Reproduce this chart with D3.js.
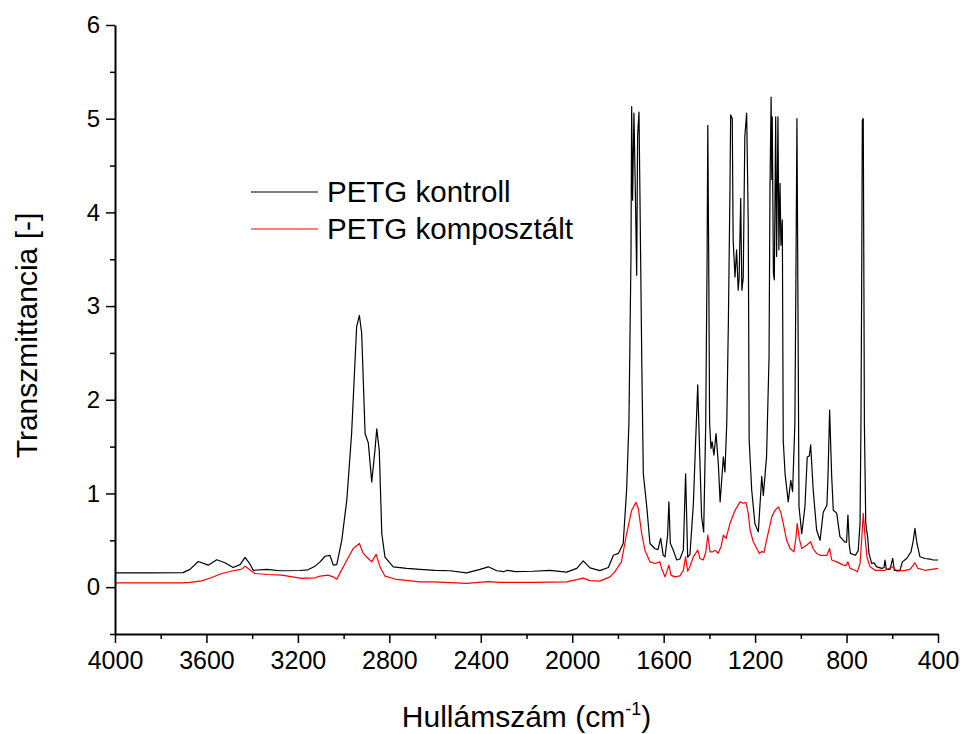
<!DOCTYPE html>
<html><head><meta charset="utf-8">
<script src="https://cdn.jsdelivr.net/npm/d3@7"></script>
<style>body{margin:0;background:#fff}svg{display:block}text{font-family:Arial,"Liberation Sans",sans-serif}</style>
</head><body><svg id="c" width="960" height="734"></svg>
<script>
// Series: [wavenumber (cm^-1), transmittance]
const kontroll = [[4000,0.153],[3847,0.152],[3703,0.155],[3672,0.19],[3636,0.274],[3592,0.235],[3555,0.292],[3519,0.26],[3483,0.21],[3453,0.24],[3431,0.317],[3413,0.26],[3395,0.18],[3336,0.19],[3278,0.175],[3191,0.178],[3156,0.185],[3125,0.224],[3103,0.27],[3081,0.33],[3060,0.34],[3045,0.235],[3030,0.24],[3008,0.5],[2986,0.93],[2965,1.64],[2943,2.78],[2931,2.9],[2921,2.71],[2906,1.64],[2892,1.54],[2877,1.124],[2863,1.46],[2855,1.69],[2844,1.46],[2833,0.57],[2819,0.32],[2783,0.217],[2724,0.2],[2666,0.19],[2600,0.18],[2535,0.175],[2462,0.153],[2403,0.19],[2367,0.217],[2330,0.175],[2300,0.165],[2285,0.18],[2250,0.165],[2172,0.17],[2097,0.18],[2024,0.16],[1980,0.2],[1952,0.28],[1922,0.206],[1879,0.176],[1842,0.21],[1820,0.34],[1798,0.36],[1777,0.466],[1762,1.04],[1752,1.75],[1743,3.53],[1740,5.13],[1736,4.13],[1730,5.06],[1724,4.24],[1718,3.33],[1714,4.81],[1708,5.07],[1704,4.24],[1696,2.46],[1689,1.21],[1674,0.86],[1660,0.466],[1638,0.41],[1625,0.4],[1613,0.52],[1602,0.34],[1594,0.324],[1583,0.55],[1577,0.91],[1571,0.47],[1558,0.395],[1543,0.29],[1529,0.3],[1514,0.395],[1504,1.21],[1495,0.32],[1485,0.35],[1470,0.89],[1460,1.57],[1451,2.16],[1442,1.39],[1434,0.75],[1425,0.59],[1416,1.75],[1410,3.53],[1407,4.93],[1403,3.5],[1399,1.75],[1393,1.48],[1388,1.55],[1380,1.41],[1371,1.64],[1361,1.32],[1353,0.91],[1339,1.39],[1332,1.23],[1324,1.75],[1317,2.82],[1310,4.24],[1307,5.04],[1300,5.0],[1296,3.7],[1288,3.31],[1281,3.6],[1274,3.17],[1270,3.3],[1263,4.15],[1258,3.17],[1252,3.3],[1245,4.81],[1237,5.06],[1230,3.88],[1226,1.57],[1215,1.04],[1201,0.68],[1186,0.59],[1171,1.18],[1164,0.98],[1150,1.39],[1139,2.46],[1135,4.24],[1130,5.23],[1127,4.35],[1125,5.02],[1120,3.35],[1116,3.28],[1110,5.02],[1106,3.53],[1100,5.02],[1096,3.6],[1091,4.31],[1087,3.65],[1081,3.92],[1077,1.57],[1069,1.21],[1055,0.91],[1044,1.14],[1036,1.02],[1026,1.75],[1021,3.5],[1017,5.0],[1013,3.2],[1008,0.86],[996,0.57],[982,0.86],[972,1.39],[963,1.4],[957,1.52],[946,1.04],[931,0.61],[916,0.5],[902,0.8],[886,0.875],[881,1.2],[874,1.89],[865,1.18],[858,0.82],[843,0.79],[829,0.54],[807,0.48],[800,0.48],[794,0.77],[788,0.45],[783,0.36],[761,0.34],[749,0.39],[741,0.68],[737,1.75],[734,3.17],[731,4.985],[727,5.0],[724,3.17],[722,1.75],[716,0.68],[707,0.52],[702,0.36],[690,0.253],[680,0.26],[668,0.217],[646,0.2],[636,0.21],[632,0.29],[626,0.19],[610,0.19],[598,0.306],[591,0.18],[566,0.18],[556,0.27],[537,0.306],[518,0.377],[508,0.5],[501,0.627],[492,0.466],[479,0.324],[457,0.306],[435,0.3],[422,0.29],[399,0.29]];
const komposztalt = [[4000,0.046],[3708,0.046],[3672,0.05],[3621,0.067],[3580,0.1],[3533,0.146],[3493,0.17],[3446,0.192],[3431,0.224],[3418,0.2],[3388,0.146],[3331,0.135],[3271,0.128],[3183,0.093],[3125,0.1],[3103,0.117],[3068,0.128],[3046,0.11],[3030,0.085],[3016,0.15],[2986,0.288],[2958,0.413],[2931,0.466],[2914,0.36],[2892,0.306],[2877,0.27],[2858,0.352],[2841,0.217],[2819,0.117],[2768,0.082],[2666,0.057],[2609,0.057],[2462,0.04],[2369,0.06],[2316,0.05],[2172,0.052],[2024,0.057],[1952,0.096],[1922,0.07],[1879,0.064],[1835,0.11],[1814,0.163],[1785,0.27],[1762,0.57],[1740,0.82],[1721,0.905],[1711,0.84],[1696,0.57],[1682,0.395],[1660,0.27],[1638,0.253],[1616,0.27],[1609,0.2],[1594,0.11],[1577,0.235],[1568,0.128],[1551,0.11],[1529,0.12],[1514,0.18],[1504,0.324],[1495,0.17],[1485,0.22],[1470,0.324],[1451,0.395],[1441,0.306],[1427,0.29],[1416,0.37],[1407,0.555],[1397,0.377],[1383,0.38],[1375,0.395],[1362,0.36],[1349,0.43],[1339,0.555],[1327,0.52],[1310,0.68],[1288,0.82],[1266,0.91],[1252,0.895],[1240,0.905],[1230,0.787],[1222,0.61],[1208,0.484],[1193,0.413],[1181,0.36],[1171,0.38],[1161,0.37],[1150,0.5],[1127,0.75],[1113,0.82],[1099,0.857],[1088,0.8],[1077,0.68],[1062,0.5],[1047,0.413],[1030,0.377],[1021,0.537],[1016,0.68],[1007,0.52],[996,0.413],[974,0.45],[957,0.484],[946,0.41],[931,0.36],[916,0.34],[886,0.34],[874,0.413],[865,0.29],[843,0.27],[814,0.235],[802,0.23],[794,0.27],[785,0.2],[763,0.18],[753,0.163],[741,0.253],[734,0.5],[727,0.787],[719,0.537],[711,0.324],[697,0.217],[676,0.18],[632,0.18],[598,0.217],[581,0.17],[544,0.18],[522,0.19],[501,0.26],[488,0.2],[457,0.18],[399,0.2]];
const seriesNames = ["PETG kontroll","PETG komposztált"];
const seriesColors = ["#000000","#ff0000"];
const xTicks = [4000,3600,3200,2800,2400,2000,1600,1200,800,400];
const xMinor = [3800,3400,3000,2600,2200,1800,1400,1000,600];
const yTicks = [0,1,2,3,4,5,6];
const yMinor = [-0.5,0.5,1.5,2.5,3.5,4.5,5.5];

const svg = d3.select("#c");
const L=115,R=938,T=25,B=634;
const x = d3.scaleLinear().domain([4000,400]).range([L,R]);
const y = d3.scaleLinear().domain([-0.5,6]).range([B,T]);

const line = d3.line().x(d=>x(d[0])).y(d=>y(d[1]));
[kontroll,komposztalt].forEach((s,i)=>{
  svg.append("path").datum(s).attr("d",line).attr("fill","none")
    .attr("stroke",seriesColors[i]).attr("stroke-width",1.2).attr("stroke-linejoin","round");
});

// X axis
const gx = svg.append("g").attr("transform",`translate(0,${B})`)
  .call(d3.axisBottom(x).tickValues(xTicks).tickFormat(d3.format("d")).tickSize(9).tickSizeOuter(0).tickPadding(8));
gx.selectAll(".tick line").attr("stroke-width",1.5);
gx.select(".domain").attr("stroke-width",2);
gx.selectAll("text").attr("font-size",25).attr("font-family","Arial, 'Liberation Sans', sans-serif");
svg.append("g").attr("transform",`translate(0,${B})`)
  .call(d3.axisBottom(x).tickValues(xMinor).tickFormat("").tickSize(5).tickSizeOuter(0))
  .call(g=>g.select(".domain").remove()).selectAll("line").attr("stroke-width",1.5);

// Y axis
const gy = svg.append("g").attr("transform",`translate(${L},0)`)
  .call(d3.axisLeft(y).tickValues(yTicks).tickFormat(d3.format("d")).tickSize(9).tickSizeOuter(0).tickPadding(6));
gy.selectAll(".tick line").attr("stroke-width",1.5);
gy.select(".domain").attr("stroke-width",2);
gy.selectAll("text").attr("font-size",24).attr("font-family","Arial, 'Liberation Sans', sans-serif");
svg.append("g").attr("transform",`translate(${L},0)`)
  .call(d3.axisLeft(y).tickValues(yMinor).tickFormat("").tickSize(5).tickSizeOuter(0))
  .call(g=>g.select(".domain").remove()).selectAll("line").attr("stroke-width",1.5);

// Axis titles
const xt = svg.append("text").attr("x",(L+R)/2).attr("y",727).attr("text-anchor","middle").attr("font-size",30);
xt.append("tspan").text("Hullámszám (cm");
xt.append("tspan").attr("font-size",18).attr("dy",-12).text("-1");
xt.append("tspan").attr("dy",12).text(")");
svg.append("text").attr("transform",`translate(37,${(T+B)/2+6}) rotate(-90)`)
  .attr("text-anchor","middle").attr("font-size",30).text("Transzmittancia [-]");

// Legend
const lg = svg.append("g");
seriesNames.forEach((n,i)=>{
  const yy = 192 + i*37;
  lg.append("line").attr("x1",251).attr("x2",318).attr("y1",yy).attr("y2",yy)
    .attr("stroke",seriesColors[i]).attr("stroke-width",1.2);
  lg.append("text").attr("x",327).attr("y",yy+10).attr("font-size",29.5).text(n);
});
</script></body></html>
